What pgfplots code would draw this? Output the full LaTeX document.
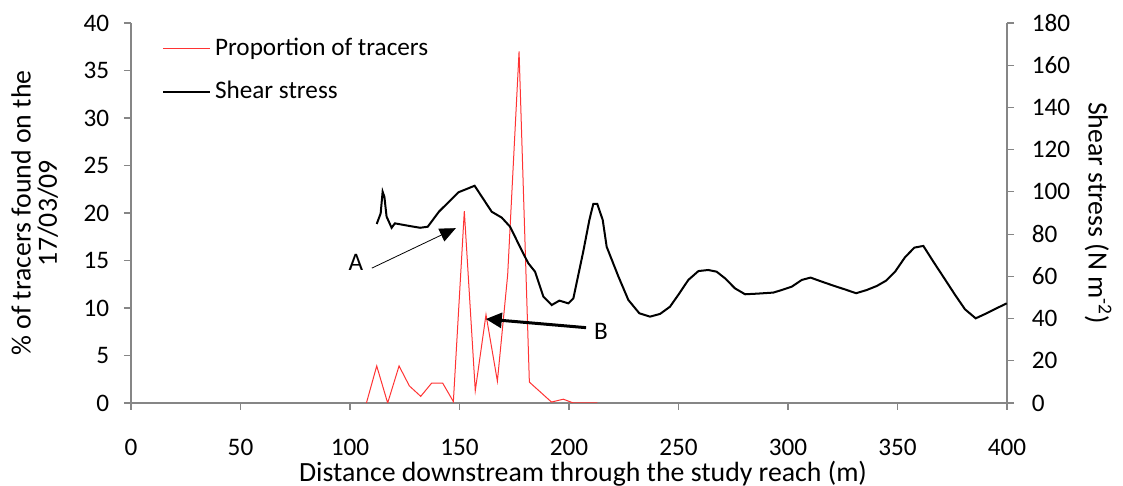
\documentclass[border=0pt]{standalone}
\usepackage{fontspec}
\setmainfont{Carlito}
\usepackage{pgfplots}
\pgfplotsset{compat=1.18}
\usetikzlibrary{arrows.meta,calc}
\definecolor{axgray}{HTML}{868686}
\definecolor{tracered}{HTML}{FF3333}
\begin{document}
\fontsize{12.6}{13.5}\selectfont
\begin{tikzpicture}
\pgfplotsset{
  base/.style={
    scale only axis, width=438pt, height=190pt,
    xmin=0, xmax=400,
    /pgf/number format/assume math mode=true,
    tick label style={font=\fontsize{12.6}{13.5}\selectfont, black},
    label style={font=\fontsize{13.9}{13.2}\selectfont, black},
    tick align=outside, major tick length=3.5pt,
    every tick/.style={axgray, line width=0.6pt},
    axis line style={axgray, line width=0.8pt},
  }
}
\begin{axis}[base, name=main,
  ymin=0, ymax=40,
  axis x line*=bottom, axis y line*=left,
  xtick={0,50,...,400}, ytick={0,5,...,40},
  xticklabel style={yshift=-10pt},
  yticklabel style={xshift=-3pt},
  xlabel={Distance downstream through the study reach (m)},
  xlabel style={at={(axis description cs:0.516,-0.2053)}, anchor=base, inner sep=1pt},
  ylabel={\% of tracers found on the\\17/03/09},
  ylabel style={at={(axis description cs:-0.11,0.5)}, anchor=center, align=center},
]
\addplot[tracered, line width=0.5pt] coordinates {
(107.5,0) (112.2,3.9) (117.2,0) (122.4,3.9) (127.1,1.8) (132.3,0.7) (137.3,2.1)
(142.3,2.1) (147.2,0.15) (152.2,20.2) (157.2,1.3) (162.1,9.3) (167.3,2.3)
(172,13.5) (177.2,37.0) (181.9,2.2) (192,0.1) (197.4,0.4) (202,0) (213,0)
};
\draw[black, line width=0.4pt, -{Triangle[length=8pt,width=7pt]}]
  (axis cs:110,14.2) -- (axis cs:148.3,18.4);
\draw[black, line width=1.5pt, -{Triangle[length=8pt,width=7.5pt]}]
  (axis cs:207.8,7.93) -- (axis cs:162,8.84);
\node[font=\fontsize{12.6}{13.5}\selectfont] at (axis cs:102.7,14.8) {A};
\node[font=\fontsize{12.6}{13.5}\selectfont] at (axis cs:214.6,7.5) {B};
\end{axis}
\begin{axis}[base,
  ymin=0, ymax=180,
  axis x line=none, axis y line*=right,
  ytick={0,20,...,180},
  yticklabel style={xshift=4.5pt},
  ylabel={Shear stress (N m\textsuperscript{-2})},
  ylabel style={at={(axis description cs:1.104,0.5)}, anchor=center, rotate=180},
  legend style={draw=none, fill=none, at={(axis description cs:0.035,0.972)}, anchor=north west,
    font=\fontsize{12.6}{13.5}\selectfont, row sep=7pt, inner sep=0pt},
  legend cell align=left,
  legend image code/.code={\draw[#1] (0pt,0pt) -- (23.5pt,0pt);},
]
\addlegendimage{tracered, line width=0.5pt}
\addlegendentry{Proportion of tracers}
\addplot[black, line width=1pt] coordinates {
(112.2,84.8) (114,89.8) (114.9,100.1) (115.7,97.7) (116.7,88.3) (119,83) (120.5,85.1)
(127.4,83.8) (132,83) (135.5,83.5) (140.6,90.6) (149.5,99.8) (156.9,102.9) (164.7,90.6)
(169.3,87.8) (173.1,83.5) (177.6,74) (181.4,66.2) (184.5,62.2) (188.3,50.4) (192.1,46.4)
(195.6,48.5) (199.7,47.2) (202,49.6) (206.5,71.7) (209.3,86.7) (211.1,94.3) (212.9,94.3)
(215.4,86.7) (217.2,74) (222.6,59.8) (227.1,48.8) (232.1,42.5) (237,40.9) (241.6,42.2)
(246.1,45.6) (249.9,51.2) (254.5,58.3) (259.1,62.5) (263.6,63) (267.4,62.2) (271.2,59.1)
(275.8,54.3) (280.4,51.5) (286,51.8) (293.3,52.3) (297.1,53.5) (301.7,55.1) (306.3,58.3)
(310.3,59.4) (315.4,57.5) (320.7,55.6) (326,53.8) (331.1,52) (335.9,53.5) (340.5,55.4)
(344.7,57.9) (348.9,62.2) (353.4,69) (357.7,73.6) (361.8,74.4) (366.4,66.9) (370.9,59.8)
(376.3,51.2) (380.8,44.4) (385.7,40.1) (390.7,42.5) (395.3,44.9) (399.9,47.2)
};
\addlegendentry{Shear stress}
\end{axis}
\pgfresetboundingbox
\path[use as bounding box] ($(main.south west)+(-65.5pt,-41.5pt)$) rectangle ($(main.north east)+(58pt,11.5pt)$);
\end{tikzpicture}
\end{document}
